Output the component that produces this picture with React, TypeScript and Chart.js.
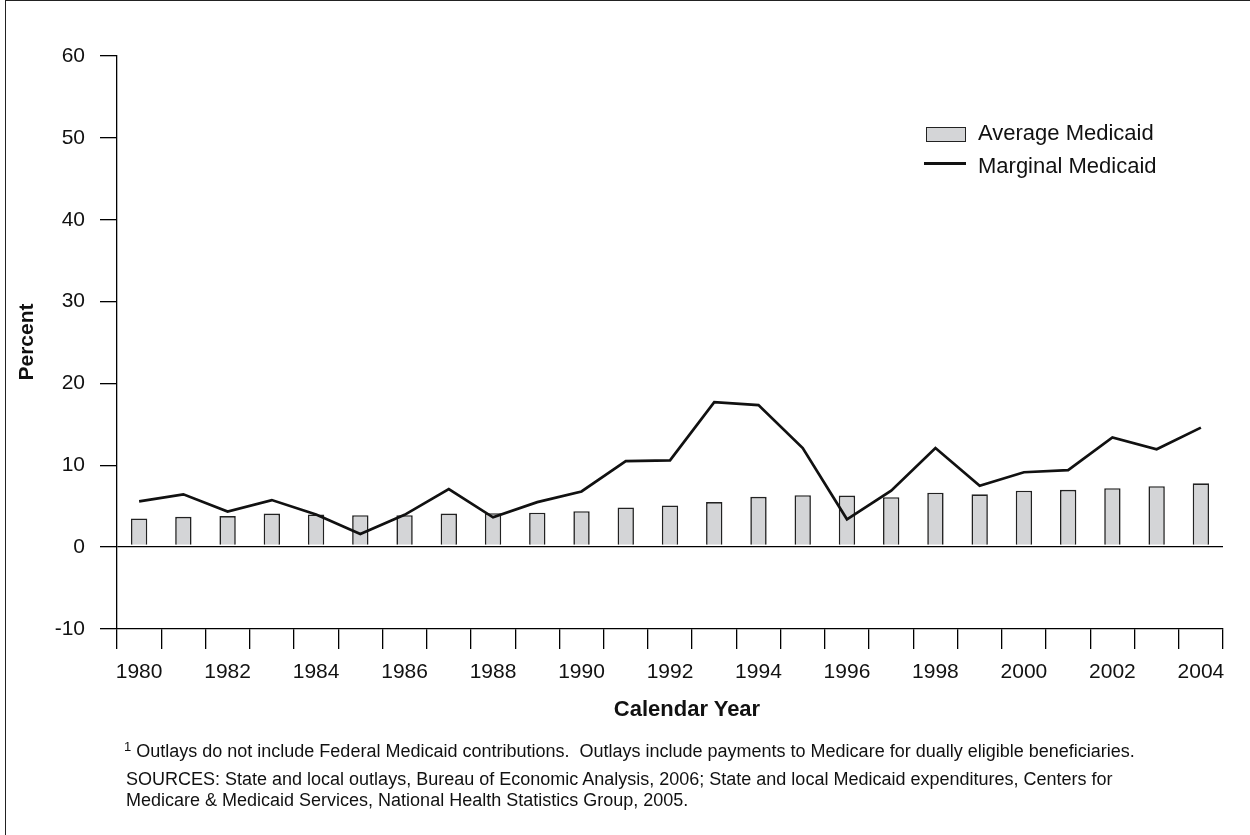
import React, { useEffect, useRef } from "react";
import { Chart, registerables } from "chart.js";

Chart.register(...registerables);

const years: string[] = [
  "1980", "1981", "1982", "1983", "1984", "1985", "1986", "1987", "1988", "1989",
  "1990", "1991", "1992", "1993", "1994", "1995", "1996", "1997", "1998", "1999",
  "2000", "2001", "2002", "2003", "2004",
];

const averageMedicaid: number[] = [
  3.5, 3.7, 3.8, 4.1, 4.0, 3.9, 3.9, 4.1, 4.15, 4.2,
  4.4, 4.85, 5.1, 5.5, 6.15, 6.35, 6.3, 6.1, 6.65, 6.45,
  6.9, 7.0, 7.2, 7.45, 7.8,
];

const marginalMedicaid: number[] = [
  5.6, 6.45, 4.35, 5.75, 4.0, 1.6, 3.95, 7.1, 3.65, 5.5,
  6.8, 10.5, 10.6, 17.7, 17.35, 12.1, 3.4, 6.9, 12.1, 7.5,
  9.15, 9.4, 13.4, 11.95, 14.6,
];

const yTicks: number[] = [-10, 0, 10, 20, 30, 40, 50, 60];

const FONT = "'Liberation Sans', Arial, Helvetica, sans-serif";

function Txt(props: {
  x: number;
  baseline: number;
  size: number;
  bold?: boolean;
  children: React.ReactNode;
  center?: boolean;
  width?: number;
}) {
  const { x, baseline, size, bold, children, center, width } = props;
  const top = baseline - 0.8465 * size;
  return (
    <div
      style={{
        position: "absolute",
        left: center ? x - (width || 400) / 2 : x,
        top,
        width: center ? width || 400 : undefined,
        textAlign: center ? "center" : "left",
        fontFamily: FONT,
        fontSize: size,
        lineHeight: `${size}px`,
        fontWeight: bold ? "bold" : "normal",
        whiteSpace: "nowrap",
        color: "#111",
      }}
    >
      {children}
    </div>
  );
}

export default function App() {
  const canvasRef = useRef<HTMLCanvasElement | null>(null);

  useEffect(() => {
    const canvas = canvasRef.current;
    if (!canvas) return;
    const chart = new Chart(canvas, {
      type: "bar",
      data: {
        labels: years,
        datasets: [
          {
            type: "line",
            label: "Marginal Medicaid",
            data: marginalMedicaid,
            borderColor: "#111",
            borderWidth: 2.7,
            pointRadius: 0,
            tension: 0,
            fill: false,
            order: 0,
          } as any,
          {
            type: "bar",
            label: "Average Medicaid",
            data: averageMedicaid,
            base: 0.3,
            backgroundColor: "#d4d5d7",
            borderColor: "#222",
            borderWidth: 1.6,
            barPercentage: 0.37,
            categoryPercentage: 1,
            order: 1,
          } as any,
        ],
      },
      options: {
        responsive: false,
        animation: false,
        devicePixelRatio: 1,
        layout: { padding: { left: 0, top: 56, right: 27, bottom: 0 } },
        plugins: {
          legend: { display: false },
          tooltip: { enabled: false },
          title: { display: false },
        },
        scales: {
          x: {
            type: "category",
            offset: true,
            afterFit: (scale: any) => {
              scale.height = 206;
            },
            grid: {
              offset: true,
              drawOnChartArea: false,
              drawTicks: true,
              tickLength: 20,
              tickColor: "#000",
              tickWidth: 1.3,
              color: "#000",
              lineWidth: 1.3,
            },
            border: { display: true, color: "#000", width: 1.3 },
            ticks: {
              autoSkip: false,
              maxRotation: 0,
              minRotation: 0,
              padding: 11,
              color: "#111",
              font: { family: FONT, size: 21 },
              callback: (_v: any, i: number) => (i % 2 === 0 ? years[i] : ""),
            },
          },
          y: {
            min: -10,
            max: 60,
            afterFit: (scale: any) => {
              scale.width = 117;
            },
            afterBuildTicks: (scale: any) => {
              scale.ticks = yTicks.map((v) => ({ value: v }));
            },
            grid: {
              drawOnChartArea: true,
              drawTicks: true,
              tickLength: 17,
              tickColor: "#000",
              tickWidth: 1.3,
              lineWidth: 1.3,
              color: (ctx: any) =>
                ctx.tick && ctx.tick.value === 0 ? "#000" : "rgba(0,0,0,0)",
            },
            border: { display: true, color: "#000", width: 1.3 },
            ticks: {
              padding: 15,
              color: "#111",
              font: { family: FONT, size: 21 },
            },
          },
        },
      } as any,
    });
    return () => chart.destroy();
  }, []);

  return (
    <div
      style={{
        position: "fixed",
        left: 0,
        top: 0,
        width: 1250,
        height: 835,
        background: "#fff",
        overflow: "hidden",
      }}
    >
      <canvas
        ref={canvasRef}
        width={1250}
        height={835}
        style={{ position: "absolute", left: 0, top: 0, width: 1250, height: 835 }}
      />
      {/* frame */}
      <div
        style={{
          position: "absolute",
          left: 5,
          top: 0,
          width: 1250,
          height: 840,
          borderLeft: "1.5px solid #222",
          borderTop: "1.5px solid #222",
        }}
      />
      {/* legend */}
      <div
        style={{
          position: "absolute",
          left: 926,
          top: 127,
          width: 40,
          height: 15,
          boxSizing: "border-box",
          border: "1.5px solid #222",
          background: "#d4d5d7",
        }}
      />
      <Txt x={978} baseline={141} size={22}>Average Medicaid</Txt>
      <div
        style={{
          position: "absolute",
          left: 924,
          top: 162,
          width: 42,
          height: 2.7,
          background: "#111",
        }}
      />
      <Txt x={978} baseline={173.5} size={22}>Marginal Medicaid</Txt>
      {/* axis titles */}
      <div
        style={{
          position: "absolute",
          left: 26 - 100,
          top: 341.5 - 12,
          width: 200,
          height: 24,
          lineHeight: "24px",
          textAlign: "center",
          fontFamily: FONT,
          fontWeight: "bold",
          fontSize: 21,
          color: "#111",
          transform: "rotate(-90deg)",
        }}
      >
        Percent
      </div>
      <Txt x={687} baseline={716.7} size={22} bold center width={300}>
        Calendar Year
      </Txt>
      {/* footnotes */}
      <div
        style={{
          position: "absolute",
          left: 124,
          top: 757.7 - 0.8465 * 18,
          fontFamily: FONT,
          fontSize: 18,
          lineHeight: "18px",
          whiteSpace: "nowrap",
          color: "#111",
        }}
      >
        <span style={{ fontSize: 13, position: "relative", top: -6 }}>1</span>{" "}
        Outlays do not include Federal Medicaid contributions.&nbsp; Outlays include payments to Medicare for dually eligible beneficiaries.
      </div>
      <Txt x={126} baseline={785} size={18}>
        SOURCES: State and local outlays, Bureau of Economic Analysis, 2006; State and local Medicaid expenditures, Centers for
      </Txt>
      <Txt x={126} baseline={806} size={18}>
        Medicare &amp; Medicaid Services, National Health Statistics Group, 2005.
      </Txt>
    </div>
  );
}
